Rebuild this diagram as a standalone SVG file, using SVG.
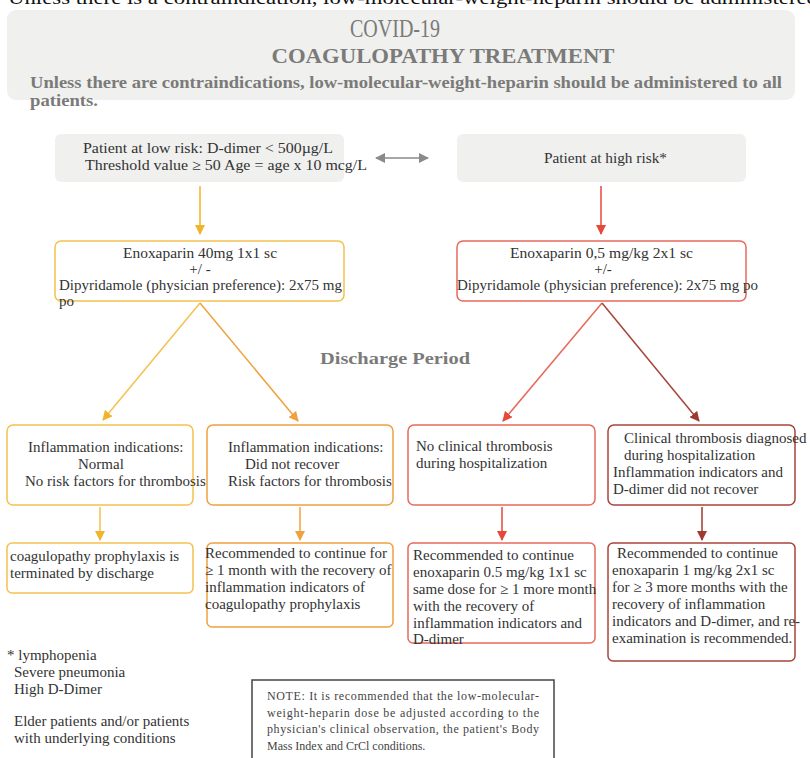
<svg xmlns="http://www.w3.org/2000/svg" width="810" height="758" viewBox="0 0 810 758">
<style>
text{font-family:"Liberation Serif","Times New Roman",serif;fill:#333;font-size:15px}
.hdr{fill:#7a7a78;font-weight:bold}
.gbox{fill:#f0f0ef;stroke:none}
.box{fill:#fff;stroke-width:1.5}
.y{stroke:#f3c24e}.o{stroke:#f0a13e}.r{stroke:#e8695c}.d{stroke:#a8443a}
.ln{fill:none;stroke-width:1.5}
.c{text-anchor:middle}
.fn{font-size:15px}
.nt{font-size:12px;fill:#444}
.pm{font-size:15px}
</style>
<defs>
<marker id="mO" viewBox="0 0 10 10" refX="9" refY="5" markerWidth="10" markerHeight="10" orient="auto" markerUnits="userSpaceOnUse"><path d="M0,0 L10,5 L0,10 z" fill="#f0a13e"/></marker>
<marker id="mR" viewBox="0 0 10 10" refX="9" refY="5" markerWidth="10" markerHeight="10" orient="auto" markerUnits="userSpaceOnUse"><path d="M0,0 L10,5 L0,10 z" fill="#e4493a"/></marker>
<marker id="mD" viewBox="0 0 10 10" refX="9" refY="5" markerWidth="10" markerHeight="10" orient="auto" markerUnits="userSpaceOnUse"><path d="M0,0 L10,5 L0,10 z" fill="#9e3a30"/></marker>
<marker id="mYb" viewBox="0 0 10 10" refX="9" refY="5" markerWidth="10" markerHeight="10" orient="auto" markerUnits="userSpaceOnUse"><path d="M0,0 L10,5 L0,10 z" fill="#f0b429"/></marker>
<marker id="mG" viewBox="0 0 10 10" refX="9" refY="5" markerWidth="10" markerHeight="10" orient="auto-start-reverse" markerUnits="userSpaceOnUse"><path d="M0,0 L10,5 L0,10 z" fill="#8a8a86"/></marker>
</defs>

<text x="8" y="4" style="font-size:19px;fill:#111" textLength="810" lengthAdjust="spacingAndGlyphs">Unless there is a contraindication, low-molecular-weight-heparin should be administered</text>

<g id="header">
<rect class="gbox" x="7" y="10" width="788" height="90" rx="9"/>
<text class="c" x="395" y="37" style="font-size:26px;fill:#7a7a78" textLength="90" lengthAdjust="spacingAndGlyphs">COVID-19</text>
<text class="c hdr" x="443" y="63" style="font-size:22px" textLength="343" lengthAdjust="spacingAndGlyphs">COAGULOPATHY TREATMENT</text>
<text class="hdr" x="30" y="88" style="font-size:17px" textLength="752" lengthAdjust="spacingAndGlyphs">Unless there are contraindications, low-molecular-weight-heparin should be administered to all</text>
<text class="hdr" x="30" y="106" style="font-size:17px" textLength="68" lengthAdjust="spacingAndGlyphs">patients.</text>
</g>

<g id="low-risk">
<rect class="gbox" x="55" y="134" width="289" height="48" rx="6"/>
<text x="83" y="153" textLength="250" lengthAdjust="spacingAndGlyphs">Patient at low risk: D-dimer &lt; 500µg/L</text>
<text x="85" y="170" textLength="282" lengthAdjust="spacingAndGlyphs">Threshold value ≥ 50 Age = age x 10 mcg/L</text>
</g>

<g id="high-risk">
<rect class="gbox" x="457" y="134" width="289" height="48" rx="6"/>
<text x="544" y="163" style="font-size:14px" textLength="123" lengthAdjust="spacingAndGlyphs">Patient at high risk*</text>
</g>

<g id="enox-low">
<rect class="box y" x="55" y="241" width="289" height="60" rx="6"/>
<text x="123" y="258" textLength="154" lengthAdjust="spacingAndGlyphs">Enoxaparin 40mg 1x1 sc</text>
<text class="c pm" x="200" y="274">+/ -</text>
<text x="59" y="290" textLength="283" lengthAdjust="spacingAndGlyphs">Dipyridamole (physician preference): 2x75 mg</text>
<text x="59" y="306">po</text>
</g>

<g id="enox-high">
<rect class="box r" x="457" y="241" width="289" height="60" rx="6"/>
<text x="510" y="258" textLength="183" lengthAdjust="spacingAndGlyphs">Enoxaparin 0,5 mg/kg 2x1 sc</text>
<text class="c pm" x="603" y="274">+/-</text>
<text x="457" y="290" textLength="301" lengthAdjust="spacingAndGlyphs">Dipyridamole (physician preference): 2x75 mg po</text>
</g>

<text class="c hdr" x="395" y="364" style="font-size:17px" textLength="150" lengthAdjust="spacingAndGlyphs">Discharge Period</text>

<g id="normal">
<rect class="box y" x="7" y="425" width="186" height="80" rx="6"/>
<text x="28" y="452">Inflammation indications:</text>
<text x="78" y="469">Normal</text>
<text x="25" y="486">No risk factors for thrombosis</text>
</g>

<g id="not-recover">
<rect class="box o" x="207" y="425" width="186" height="80" rx="6"/>
<text x="228" y="452">Inflammation indications:</text>
<text x="245" y="469">Did not recover</text>
<text x="228" y="486">Risk factors for thrombosis</text>
</g>

<g id="no-thrombosis">
<rect class="box r" x="408" y="425" width="187" height="80" rx="6"/>
<text x="416" y="451">No clinical thrombosis</text>
<text x="416" y="468">during hospitalization</text>
</g>

<g id="thrombosis">
<rect class="box d" x="608" y="425" width="187" height="80" rx="6"/>
<text x="624" y="443">Clinical thrombosis diagnosed</text>
<text x="624" y="460">during hospitalization</text>
<text x="613" y="477">Inflammation indicators and</text>
<text x="613" y="494">D-dimer did not recover</text>
</g>

<g id="terminated">
<rect class="box y" x="7" y="543" width="186" height="50" rx="5"/>
<text x="10" y="561">coagulopathy prophylaxis is</text>
<text x="10" y="578">terminated by discharge</text>
</g>

<g id="continue-1m">
<rect class="box o" x="207" y="543" width="186" height="84" rx="5"/>
<text x="205" y="558">Recommended to continue for</text>
<text x="205" y="575">≥ 1 month with the recovery of</text>
<text x="205" y="592">inflammation indicators of</text>
<text x="205" y="609">coagulopathy prophylaxis</text>
</g>

<g id="continue-enox-05">
<rect class="box r" x="408" y="543" width="187" height="100" rx="5"/>
<text x="413" y="560">Recommended to continue</text>
<text x="413" y="577">enoxaparin 0.5 mg/kg 1x1 sc</text>
<text x="413" y="594">same dose for ≥ 1 more month</text>
<text x="413" y="611">with the recovery of</text>
<text x="413" y="628">inflammation indicators and</text>
<text x="413" y="644">D-dimer</text>
</g>

<g id="continue-enox-1">
<rect class="box d" x="608" y="543" width="187" height="118" rx="5"/>
<text x="617" y="558">Recommended to continue</text>
<text x="612" y="575">enoxaparin 1 mg/kg 2x1 sc</text>
<text x="612" y="592">for ≥ 3 more months with the</text>
<text x="612" y="609">recovery of inflammation</text>
<text x="612" y="626">indicators and D-dimer, and re-</text>
<text x="612" y="643">examination is recommended.</text>
</g>

<g id="footnote">
<text class="fn" x="7" y="660">* lymphopenia</text>
<text class="fn" x="14" y="677">Severe pneumonia</text>
<text class="fn" x="14" y="694">High D-Dimer</text>
<text class="fn" x="14" y="726">Elder patients and/or patients</text>
<text class="fn" x="14" y="743">with underlying conditions</text>
</g>

<g id="note">
<rect x="252" y="680" width="302" height="90" fill="#fff" stroke="#444" stroke-width="1.5"/>
<text class="nt" x="267" y="700" textLength="272" lengthAdjust="spacing">NOTE: It is recommended that the low-molecular-</text>
<text class="nt" x="267" y="717" textLength="272" lengthAdjust="spacing">weight-heparin dose be adjusted according to the</text>
<text class="nt" x="267" y="733" textLength="272" lengthAdjust="spacing">physician's clinical observation, the patient's Body</text>
<text class="nt" x="267" y="750">Mass Index and CrCl conditions.</text>
</g>

<g id="connectors">
<line class="ln" x1="376" y1="158" x2="428" y2="158" stroke="#8a8a86" marker-start="url(#mG)" marker-end="url(#mG)"/>
<line class="ln" x1="200" y1="186" x2="200" y2="234" stroke="#f0b429" marker-end="url(#mYb)"/>
<line class="ln" x1="601" y1="186" x2="601" y2="234" stroke="#e4493a" marker-end="url(#mR)"/>
<line class="ln" x1="200" y1="303" x2="103" y2="420" stroke="#f3c24e" marker-end="url(#mYb)"/>
<line class="ln" x1="200" y1="303" x2="298" y2="421" stroke="#f0a13e" marker-end="url(#mO)"/>
<line class="ln" x1="602" y1="303" x2="503" y2="421" stroke="#e8695c" marker-end="url(#mR)"/>
<line class="ln" x1="602" y1="303" x2="699" y2="421" stroke="#a8443a" marker-end="url(#mD)"/>
<line class="ln" x1="100" y1="507" x2="100" y2="540" stroke="#f3c24e" marker-end="url(#mYb)"/>
<line class="ln" x1="300" y1="507" x2="300" y2="540" stroke="#f0a13e" marker-end="url(#mO)"/>
<line class="ln" x1="502" y1="507" x2="502" y2="540" stroke="#e4493a" marker-end="url(#mR)"/>
<line class="ln" x1="702" y1="507" x2="702" y2="540" stroke="#9e3a30" marker-end="url(#mD)"/>
</g>
</svg>
